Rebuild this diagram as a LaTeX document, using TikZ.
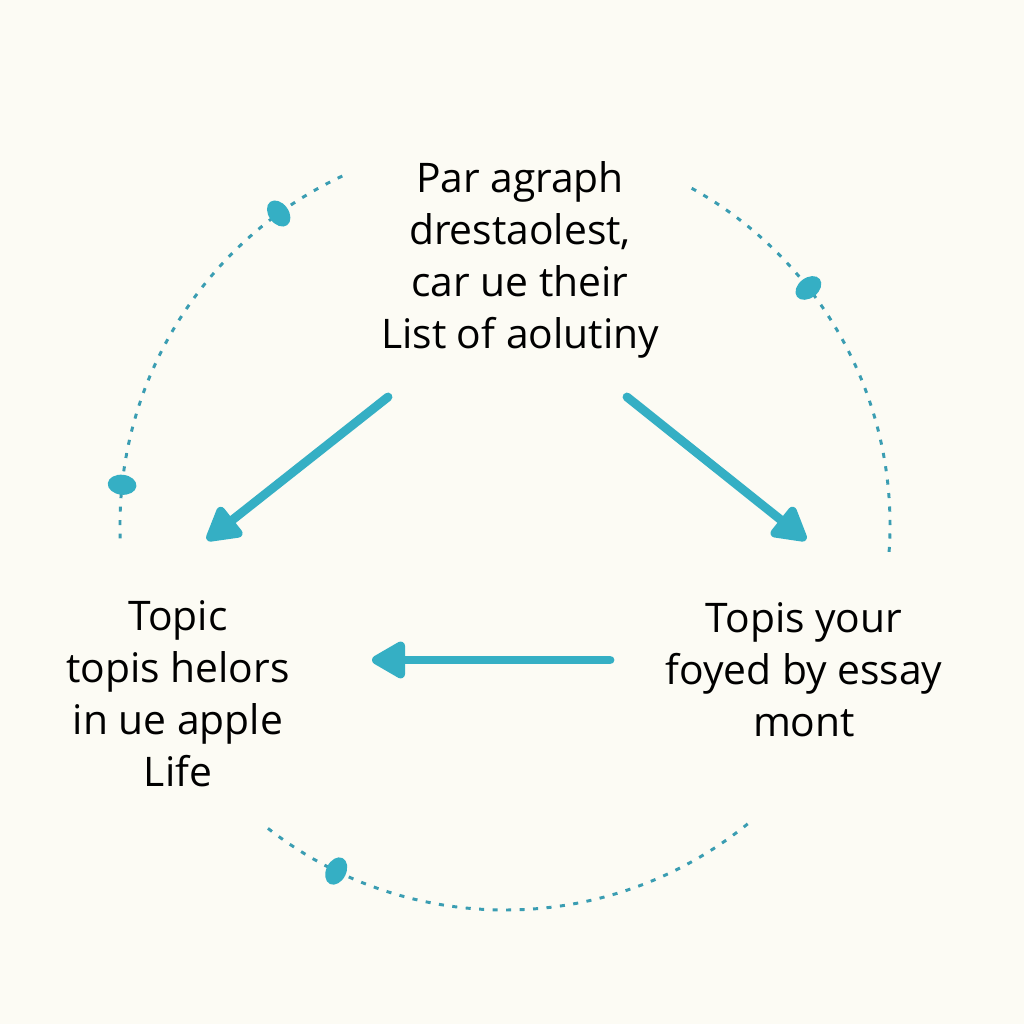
\documentclass[tikz,border=0pt]{standalone}
\usepackage{fontspec}
\setmainfont{Open Sans}
\usetikzlibrary{arrows.meta}
\definecolor{bg}{HTML}{FCFBF4}
\definecolor{teal}{HTML}{35AFC4}
\definecolor{dteal}{HTML}{3A9DB2}
\tikzset{
  txt/.style={align=center, font=\fontsize{29}{37}\selectfont, text=black, inner sep=0pt},
  flow/.style={draw=teal, line width=6.3pt, line cap=round, -{Triangle[length=27pt,width=29pt,round]}},
  ring/.style={draw=dteal, line width=2.1pt, dash pattern=on 3.6pt off 6pt}
}
\newcommand{\mypill}[1]{%
  \path (c) ++(#1:96.25mm) coordinate (p#1);
  \fill[teal, rotate around={#1:(p#1)}] (p#1) ellipse [x radius=3.6mm, y radius=2.5mm];}
\begin{document}
\begin{tikzpicture}[x=0.25mm,y=0.25mm]
\fill[bg] (0,0) rectangle (1024,1024);
\useasboundingbox (0,0) rectangle (1024,1024);
\coordinate (c) at (505,499);
% dashed ring segments
\draw[ring] (c) ++(115:96.25mm) arc[start angle=115, end angle=182, radius=96.25mm];
\draw[ring] (c) ++(61:96.25mm) arc[start angle=61, end angle=-4, radius=96.25mm];
\draw[ring] (c) ++(232:96.25mm) arc[start angle=232, end angle=310, radius=96.25mm];
% pills
\mypill{126}
\mypill{174}
\mypill{38}
\mypill{244}
% text nodes
\node[txt] (top) at (520,764) {Par agraph\\ drestaolest,\\ car ue their\\ List of aolutiny};
\node[txt] (left) at (178,330) {Topic\\ topis helors\\ in ue apple\\ Life};
\node[txt] (right) at (804,354) {Topis your\\ foyed by essay\\ mont};
% arrows
\coordinate (a1s) at (388,627);
\coordinate (a1e) at (207,484);
\coordinate (a2s) at (627,627);
\coordinate (a2e) at (806,484);
\coordinate (a3s) at (610,364);
\coordinate (a3e) at (372,364);
\draw[flow] (a1s) -- (a1e);
\draw[flow] (a2s) -- (a2e);
\draw[flow] (a3s) -- (a3e);
\end{tikzpicture}
\end{document}
